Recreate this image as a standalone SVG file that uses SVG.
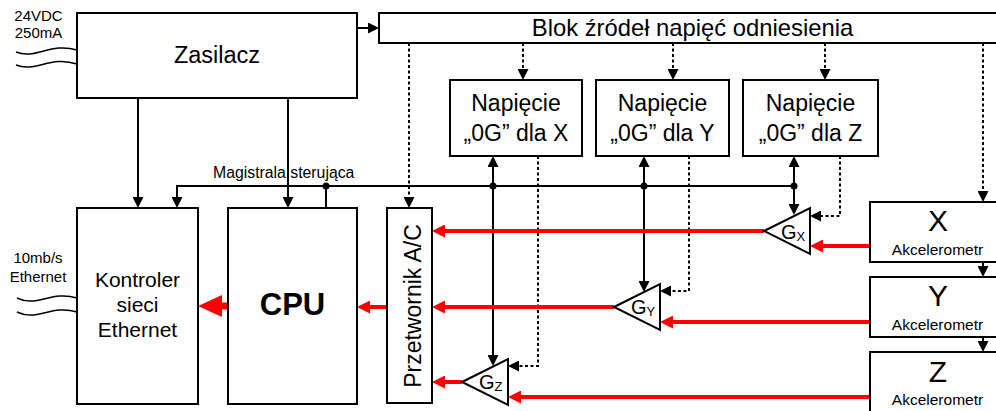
<svg xmlns="http://www.w3.org/2000/svg" width="996" height="411" viewBox="0 0 996 411">
<style>
text{font-family:"Liberation Sans",Arial,sans-serif;fill:#000}
.box{fill:#fff;stroke:#000;stroke-width:2}
.ln{fill:none;stroke:#000;stroke-width:2}
.dt{fill:none;stroke:#000;stroke-width:2;stroke-dasharray:3 2.5}
.rd{fill:none;stroke:#f00;stroke-width:4}
.wv{fill:none;stroke:#000;stroke-width:1.5}
.ar{marker-end:url(#ah)}
.ar2{marker-start:url(#ah);marker-end:url(#ah)}
.ra{marker-end:url(#rh)}
.c{text-anchor:middle}
</style>
<defs>
<marker id="ah" markerUnits="userSpaceOnUse" markerWidth="11" markerHeight="11" refX="9" refY="5.5" orient="auto-start-reverse"><path d="M0,0 L11,5.5 L0,11 z" fill="#000"/></marker>
<marker id="rh" markerUnits="userSpaceOnUse" markerWidth="13" markerHeight="13" refX="9" refY="6.5" orient="auto"><path d="M0,0 L13,6.5 L0,13 z" fill="#f00"/></marker>
<marker id="bh" markerUnits="userSpaceOnUse" markerWidth="24" markerHeight="22" refX="2" refY="11" orient="auto"><path d="M0,0 L24,11 L0,22 z" fill="#f00"/></marker>
</defs>

<g id="power-input">
<text class="c" x="38.5" y="21" font-size="15">24VDC</text>
<text class="c" x="38.5" y="38" font-size="15">250mA</text>
<path class="wv" d="M16,52 C36,60 50,42 77,50"/>
<path class="wv" d="M16,65 C36,73 50,55 77,64"/>
</g>
<g id="ethernet-input">
<text class="c" x="38" y="263" font-size="15">10mb/s</text>
<text class="c" x="38" y="282" font-size="15">Ethernet</text>
<path class="wv" d="M17,298 C37,308 51,290 77,298"/>
<path class="wv" d="M17,312 C37,322 51,304 77,312"/>
</g>

<g id="connectors">
<text x="213" y="178" font-size="15.8">Magistrala sterująca</text>
<path class="ln ar" d="M357,28 H377"/>
<path class="ln ar" d="M138,98 V206"/>
<path class="ln ar" d="M288,98 V206"/>
<path class="ln ar" d="M794,186 H177 V206"/>
<path class="ln" d="M326,186 V208"/>
<path class="ln ar2" d="M493,158 V364"/>
<path class="ln ar2" d="M644,158 V290"/>
<path class="ln ar2" d="M794,158 V213"/>
<path class="ln ar" d="M983,262 V275"/>
<path class="ln ar" d="M983,337 V350"/>
<circle cx="326" cy="186" r="3.5"/>
<circle cx="493" cy="186" r="3.5"/>
<circle cx="644" cy="186" r="3.5"/>
<circle cx="794" cy="186" r="3.5"/>
<path class="dt ar" d="M409,43 V206"/>
<path class="dt ar" d="M523,43 V78"/>
<path class="dt ar" d="M673,43 V78"/>
<path class="dt ar" d="M825,43 V78"/>
<path class="dt ar" d="M983,43 V200"/>
<path class="dt ar" d="M538,156 V366 H510"/>
<path class="dt ar" d="M689,156 V291 H662"/>
<path class="dt ar" d="M840,156 V216 H812"/>
<path class="rd ra" d="M764,231 H436"/>
<path class="rd ra" d="M870,246 H814"/>
<path class="rd ra" d="M614,307 H436"/>
<path class="rd ra" d="M870,322 H664"/>
<path class="rd ra" d="M462,382 H436"/>
<path class="rd ra" d="M870,397 H512"/>
<path class="rd ra" d="M387,307 H361"/>
<path d="M228,306 H220" fill="none" stroke="#f00" stroke-width="7" marker-end="url(#bh)"/>
</g>

<g id="zasilacz">
<rect class="box" x="77" y="13" width="280" height="85"/>
<text class="c" x="217" y="63" font-size="23.5">Zasilacz</text>
</g>
<g id="blok">
<rect class="box" x="379" y="13" width="625" height="30"/>
<text class="c" x="692.5" y="36" font-size="23.8">Blok źródeł napięć odniesienia</text>
</g>
<g id="napiecie-x">
<rect class="box" x="450" y="80" width="132" height="76"/>
<text class="c" x="516" y="111" font-size="23">Napięcie</text>
<text class="c" x="516" y="141" font-size="23">„0G” dla X</text>
</g>
<g id="napiecie-y">
<rect class="box" x="596" y="80" width="133" height="76"/>
<text class="c" x="662.5" y="111" font-size="23">Napięcie</text>
<text class="c" x="662.5" y="141" font-size="23">„0G” dla Y</text>
</g>
<g id="napiecie-z">
<rect class="box" x="743" y="80" width="135" height="76"/>
<text class="c" x="810.5" y="111" font-size="23">Napięcie</text>
<text class="c" x="810.5" y="141" font-size="23">„0G” dla Z</text>
</g>
<g id="kontroler">
<rect class="box" x="77" y="208" width="121" height="196"/>
<text class="c" x="137.5" y="287" font-size="21">Kontroler</text>
<text class="c" x="137.5" y="312" font-size="21">sieci</text>
<text class="c" x="137.5" y="337" font-size="21">Ethernet</text>
</g>
<g id="cpu">
<rect class="box" x="228" y="208" width="129" height="196"/>
<text class="c" x="292.5" y="315" font-size="31" font-weight="bold">CPU</text>
</g>
<g id="przetwornik">
<rect class="box" x="387" y="208" width="45" height="195"/>
<text class="c" transform="translate(421,306) rotate(-90)" font-size="23">Przetwornik A/C</text>
</g>
<g id="gx">
<path class="box" d="M764,231 L810,208 L810,254 z"/>
<text x="781" y="239" font-size="20">G<tspan font-size="13" dy="2">X</tspan></text>
</g>
<g id="gy">
<path class="box" d="M614,307 L660,284 L660,330 z"/>
<text x="631" y="314" font-size="20">G<tspan font-size="13" dy="2">Y</tspan></text>
</g>
<g id="gz">
<path class="box" d="M462,382 L508,359 L508,405 z"/>
<text x="479" y="389" font-size="20">G<tspan font-size="13" dy="2">Z</tspan></text>
</g>
<g id="akcel-x">
<rect class="box" x="870" y="202" width="135" height="60"/>
<text class="c" x="938" y="231" font-size="30">X</text>
<text class="c" x="937.5" y="255" font-size="15.5">Akcelerometr</text>
</g>
<g id="akcel-y">
<rect class="box" x="870" y="277" width="135" height="60"/>
<text class="c" x="938" y="306" font-size="30">Y</text>
<text class="c" x="937.5" y="330" font-size="15.5">Akcelerometr</text>
</g>
<g id="akcel-z">
<rect class="box" x="870" y="352" width="135" height="65"/>
<text class="c" x="938" y="382" font-size="30">Z</text>
<text class="c" x="937.5" y="405" font-size="15.5">Akcelerometr</text>
</g>
</svg>
